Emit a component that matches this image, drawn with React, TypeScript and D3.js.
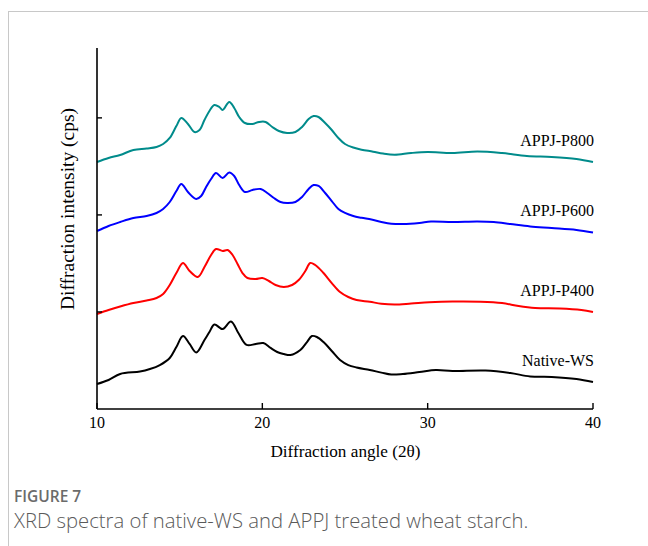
import React from "react";
import * as d3 from "d3";

const seriesNames = ["Native-WS", "APPJ-P400", "APPJ-P600", "APPJ-P800"];
const seriesColors = ["#000000", "#ff0000", "#0000ff", "#008b8b"];
const xTicks = [10, 20, 30, 40];
const yTicks = [1000, 2000, 3000];

// [2θ, intensity (cps)]
const nativeWS: [number, number][] = [
  [10.0, 258], [10.7, 299], [11.4, 361], [12.6, 386], [13.2, 412], [13.8, 453], [14.4, 526], [14.8, 639],
  [15.2, 752], [15.6, 670], [16.0, 582], [16.5, 711], [16.8, 793], [17.1, 871], [17.6, 824], [18.1, 902],
  [18.55, 783], [19.05, 660], [19.6, 670], [20.06, 680], [20.5, 629], [20.9, 587], [21.3, 567], [21.7, 556],
  [22.3, 608], [22.7, 690], [23.0, 752], [23.3, 742], [23.7, 690], [24.2, 598], [24.7, 505], [25.2, 453],
  [25.7, 428], [26.5, 402], [27.2, 375], [27.8, 355], [28.5, 361], [29.5, 381], [30.5, 402], [31.5, 392],
  [33.5, 397], [35.0, 371], [36.2, 335], [37.5, 330], [39.0, 309], [40.0, 278],
];
const p400: [number, number][] = [
  [10.0, 979], [10.7, 1020], [11.4, 1056], [12.2, 1092], [13.0, 1118], [13.6, 1144], [14.0, 1185], [14.4, 1278],
  [14.8, 1401], [15.2, 1505], [15.6, 1422], [16.1, 1360], [16.5, 1463], [16.9, 1587], [17.2, 1649], [17.6, 1628],
  [17.9, 1638], [18.2, 1587], [18.5, 1494], [18.8, 1401], [19.1, 1350], [19.6, 1340], [20.0, 1350], [20.4, 1319],
  [20.8, 1278], [21.3, 1257], [21.8, 1278], [22.2, 1329], [22.6, 1422], [22.9, 1505], [23.2, 1484], [23.7, 1401],
  [24.2, 1298], [24.7, 1206], [25.2, 1154], [25.7, 1123], [26.5, 1105], [27.2, 1085], [28.0, 1077], [29.0, 1087],
  [30.1, 1100], [31.5, 1108], [33.2, 1106], [34.5, 1092], [35.5, 1061], [36.5, 1041], [38.0, 1036], [39.3, 1020],
  [40.0, 1000],
];
const p600: [number, number][] = [
  [10.0, 1834], [10.7, 1886], [11.4, 1927], [12.2, 1968], [13.0, 1989], [13.6, 2020], [14.0, 2061], [14.4, 2133],
  [14.8, 2246], [15.1, 2319], [15.5, 2236], [16.0, 2164], [16.3, 2195], [16.6, 2288], [16.9, 2370], [17.2, 2432],
  [17.6, 2380], [18.0, 2437], [18.3, 2401], [18.6, 2308], [18.95, 2236], [19.4, 2257], [19.9, 2267], [20.3, 2226],
  [20.7, 2174], [21.1, 2133], [21.5, 2123], [22.0, 2133], [22.4, 2185], [22.8, 2267], [23.1, 2308], [23.4, 2298],
  [23.8, 2226], [24.2, 2143], [24.6, 2061], [25.0, 2020], [25.5, 1988], [26.0, 1970], [26.6, 1952], [27.2, 1928],
  [27.8, 1910], [28.5, 1906], [29.5, 1917], [30.2, 1932], [31.5, 1927], [33.0, 1932], [34.0, 1927], [35.0, 1906],
  [36.2, 1881], [37.5, 1865], [39.0, 1845], [40.0, 1819],
];
const p800: [number, number][] = [
  [10.0, 2545], [10.7, 2587], [11.4, 2617], [12.2, 2669], [13.0, 2684], [13.6, 2700], [14.0, 2731], [14.4, 2793],
  [14.8, 2916], [15.1, 2999], [15.5, 2937], [15.9, 2854], [16.2, 2875], [16.5, 2978], [16.8, 3071], [17.1, 3133],
  [17.4, 3112], [17.6, 3081], [18.0, 3164], [18.3, 3102], [18.6, 3009], [18.95, 2947], [19.4, 2937], [19.8, 2958],
  [20.2, 2958], [20.6, 2906], [21.0, 2865], [21.5, 2844], [22.0, 2854], [22.4, 2906], [22.8, 2988], [23.1, 3019],
  [23.4, 3009], [23.8, 2947], [24.2, 2875], [24.6, 2793], [25.0, 2731], [25.5, 2694], [26.0, 2672], [26.7, 2652],
  [27.3, 2632], [28.0, 2620], [29.0, 2638], [30.0, 2648], [31.5, 2638], [33.0, 2654], [34.5, 2638], [36.0, 2607],
  [37.5, 2597], [39.0, 2576], [40.0, 2545],
];
const seriesData = [nativeWS, p400, p600, p800];

export default function App() {
  const W = 648, H = 546;
  const left = 97, right = 593, top = 48, bottom = 409;
  const x = d3.scaleLinear().domain([10, 40]).range([left, right]);
  const y = d3.scaleLinear().domain([0, 3720]).range([bottom, top]);
  const line = d3.line<[number, number]>().x(d => x(d[0])).y(d => y(d[1])).curve(d3.curveCatmullRom.alpha(0.5));
  const serif = "'Liberation Serif', 'Times New Roman', serif";
  return (
    <svg width={W} height={H} style={{ position: "absolute", left: 0, top: 0, background: "#fff" }}>
      <rect x={8.5} y={11.5} width={700} height={600} fill="#fff" stroke="#c8c8c8" strokeWidth={1} />
      {seriesData.map((s, i) => (
        <path key={i} d={line(s) || ""} fill="none" stroke={seriesColors[i]} strokeWidth={2} strokeLinejoin="round" />
      ))}
      {seriesData.map((s, i) => {
        const last = s[s.length - 1];
        return (
          <text key={"l" + i} x={x(40) + 1} y={y(last[1]) - 16} textAnchor="end" fontFamily={serif} fontSize={16} fill="#000">
            {seriesNames[i]}
          </text>
        );
      })}
      <line x1={left} y1={top} x2={left} y2={bottom} stroke="#000" strokeWidth={1.6} />
      <line x1={left} y1={bottom} x2={right} y2={bottom} stroke="#000" strokeWidth={1.6} />
      {yTicks.map(t => (
        <line key={"yt" + t} x1={left} x2={left + 5} y1={y(t)} y2={y(t)} stroke="#000" strokeWidth={1.4} />
      ))}
      {xTicks.map(t => (
        <g key={"xt" + t}>
          <line x1={x(t)} x2={x(t)} y1={bottom} y2={bottom - 6} stroke="#000" strokeWidth={1.4} />
          <text x={x(t)} y={428} textAnchor="middle" fontFamily={serif} fontSize={16} fill="#000">{t}</text>
        </g>
      ))}
      <text x={345.5} y={457} textAnchor="middle" fontFamily={serif} fontSize={17.2} fill="#000">
        Diffraction angle (2θ)
      </text>
      <text transform="translate(74, 209) rotate(-90)" textAnchor="middle" fontFamily={serif} fontSize={19.5} fill="#000">
        Diffraction intensity (cps)
      </text>
      <text x={14} y={502} fontFamily="'Open Sans', sans-serif" fontSize={15.5} fontWeight={600} fill="#6b6b6b">FIGURE 7</text>
      <text x={14} y={528} fontFamily="'Open Sans', sans-serif" fontSize={20.3} fontWeight={300} fill="#5a5a5a">
        XRD spectra of native-WS and APPJ treated wheat starch.
      </text>
    </svg>
  );
}
